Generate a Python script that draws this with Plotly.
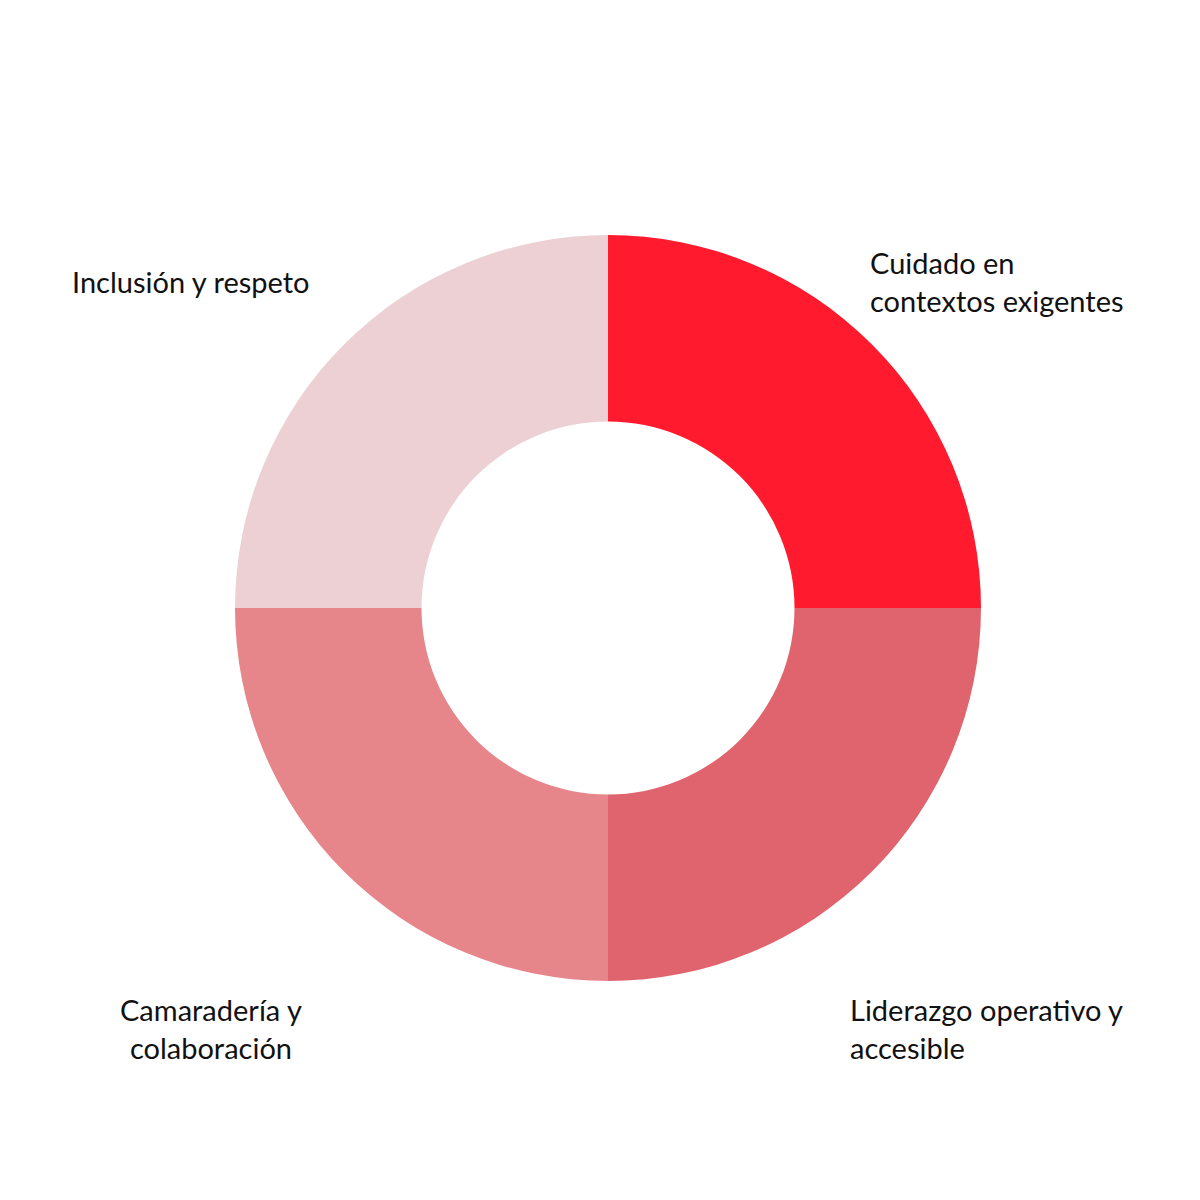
import plotly.graph_objects as go

labels = ["Cuidado en<br>contextos exigentes", "Liderazgo operativo y<br>accesible",
          "Camaradería y<br>colaboración", "Inclusión y respeto"]
values = [25, 25, 25, 25]
colors = ["#FF1A2D", "#E0646D", "#E6858A", "#ECD0D4"]

fig = go.Figure(go.Pie(
    labels=labels, values=values, hole=0.5, sort=False, direction="clockwise",
    rotation=0, marker=dict(colors=colors, line=dict(width=0)),
    textinfo="none", hoverinfo="label+percent", showlegend=False,
    domain=dict(x=[227/1200, 973/1200], y=[227/1200, 973/1200])))

# label positions (pixel coords: x, y center, xanchor, align)
pos = [(860, 273, "left", "left"), (840, 1020, "left", "left"),
       (203, 1020, "center", "center"), (62, 273, "left", "left")]
for lab, (x, y, xa, al) in zip(labels, pos):
    fig.add_annotation(x=x/1200, y=1 - y/1200, xref="paper", yref="paper",
                       text=lab, showarrow=False, xanchor=xa, yanchor="middle",
                       align=al, font=dict(family="Lato", size=29, color="#111"))

fig.update_layout(width=1200, height=1200, margin=dict(l=0, r=0, t=0, b=0),
                  paper_bgcolor="white", plot_bgcolor="white")
fig.write_html("out.html")
